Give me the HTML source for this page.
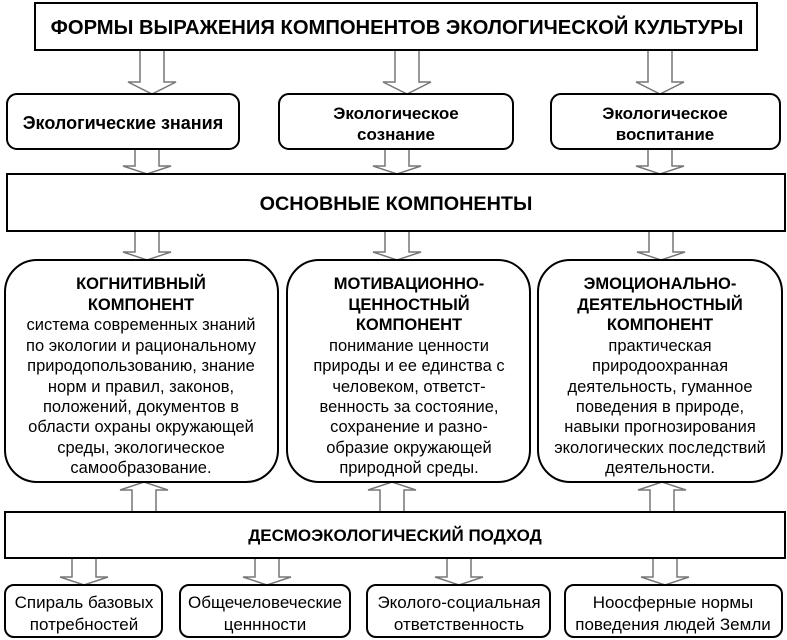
<!DOCTYPE html>
<html><head><meta charset="utf-8"><style>
html,body{margin:0;padding:0;background:#fff;}
svg{display:block;font-family:"Liberation Sans",Arial,sans-serif;}
.b{font-weight:bold;}
</style></head><body>
<svg width="787" height="640" viewBox="0 0 787 640" xmlns="http://www.w3.org/2000/svg">
<g fill="#fff" stroke="#777" stroke-width="1.5">
<path d="M140,50 V82 H128 L152,94 L176,82 H164 V50"/>
<path d="M395,50 V82 H383 L407,94 L431,82 H419 V50"/>
<path d="M648,50 V82 H636 L660,94 L684,82 H672 V50"/>
<path d="M135,149 V166 H123 L147,174 L171,166 H159 V149"/>
<path d="M385,149 V166 H373 L397,174 L421,166 H409 V149"/>
<path d="M648,149 V166 H636 L660,174 L684,166 H672 V149"/>
<path d="M135,231 V252 H123 L147,260 L171,252 H159 V231"/>
<path d="M385,231 V252 H373 L397,260 L421,252 H409 V231"/>
<path d="M649,231 V252 H637 L661,260 L685,252 H673 V231"/>
<path d="M132,512 V490 H120 L144,482 L168,490 H156 V512"/>
<path d="M380,512 V490 H368 L392,482 L416,490 H404 V512"/>
<path d="M650,512 V490 H638 L662,482 L686,490 H674 V512"/>
<path d="M72,558 V577 H60 L84,585 L108,577 H96 V558"/>
<path d="M255,558 V577 H243 L267,585 L291,577 H279 V558"/>
<path d="M447,558 V577 H435 L459,585 L483,577 H471 V558"/>
<path d="M653,558 V577 H641 L665,585 L689,577 H677 V558"/>
</g>
<g fill="#fff" stroke="#000" stroke-width="2">
<rect x="35" y="3" width="722" height="47"/>
<rect x="7" y="94" width="232" height="55" rx="10"/>
<rect x="279" y="94" width="234" height="55" rx="10"/>
<rect x="551" y="94" width="229" height="55" rx="10"/>
<rect x="7" y="174" width="778" height="57"/>
<rect x="5" y="260" width="273" height="222" rx="32"/>
<rect x="287" y="260" width="243" height="222" rx="32"/>
<rect x="538" y="260" width="244" height="222" rx="32"/>
<rect x="5" y="512" width="780" height="46"/>
<rect x="5" y="585" width="157" height="52" rx="9"/>
<rect x="180" y="585" width="170" height="52" rx="9"/>
<rect x="367" y="585" width="183" height="52" rx="9"/>
<rect x="565" y="585" width="217" height="52" rx="9"/>
</g>
<g text-anchor="middle" fill="#000">
<text x="397" y="34" class="b" font-size="20.2">ФОРМЫ ВЫРАЖЕНИЯ КОМПОНЕНТОВ ЭКОЛОГИЧЕСКОЙ КУЛЬТУРЫ</text>
<text x="123" y="129" class="b" font-size="18">Экологические знания</text>
<text x="396" y="119" class="b" font-size="17">Экологическое</text>
<text x="396" y="140" class="b" font-size="17">сознание</text>
<text x="665" y="119" class="b" font-size="17">Экологическое</text>
<text x="665" y="140" class="b" font-size="17">воспитание</text>
<text x="396" y="210" class="b" font-size="19.8">ОСНОВНЫЕ КОМПОНЕНТЫ</text>
<g font-size="16.5">
<text x="141" y="289" class="b">КОГНИТИВНЫЙ</text>
<text x="141" y="310" class="b">КОМПОНЕНТ</text>
<text x="141" y="330">система современных знаний</text>
<text x="141" y="351">по экологии и рациональному</text>
<text x="141" y="371">природопользованию, знание</text>
<text x="141" y="392">норм и правил, законов,</text>
<text x="141" y="412">положений, документов в</text>
<text x="141" y="432">области охраны окружающей</text>
<text x="141" y="453">среды, экологическое</text>
<text x="141" y="473">самообразование.</text>
<text x="409" y="289" class="b">МОТИВАЦИОННО-</text>
<text x="409" y="310" class="b">ЦЕННОСТНЫЙ</text>
<text x="409" y="330" class="b">КОМПОНЕНТ</text>
<text x="409" y="351">понимание ценности</text>
<text x="409" y="371">природы и ее единства с</text>
<text x="409" y="392">человеком, ответст-</text>
<text x="409" y="412">венность за состояние,</text>
<text x="409" y="432">сохранение и разно-</text>
<text x="409" y="453">образие окружающей</text>
<text x="409" y="473">природной среды.</text>
<text x="660" y="289" class="b">ЭМОЦИОНАЛЬНО-</text>
<text x="660" y="310" class="b">ДЕЯТЕЛЬНОСТНЫЙ</text>
<text x="660" y="330" class="b">КОМПОНЕНТ</text>
<text x="660" y="351">практическая</text>
<text x="660" y="371">природоохранная</text>
<text x="660" y="392">деятельность, гуманное</text>
<text x="660" y="412">поведения в природе,</text>
<text x="660" y="432">навыки прогнозирования</text>
<text x="660" y="453">экологических последствий</text>
<text x="660" y="473">деятельности.</text>
</g>
<text x="395" y="541" class="b" font-size="17">ДЕСМОЭКОЛОГИЧЕСКИЙ ПОДХОД</text>
<g font-size="17">
<text x="84" y="608">Спираль базовых</text>
<text x="84" y="630">потребностей</text>
<text x="265" y="608">Общечеловеческие</text>
<text x="265" y="630">ценнности</text>
<text x="459" y="608">Эколого-социальная</text>
<text x="459" y="630">ответственность</text>
<text x="673" y="608">Ноосферные нормы</text>
<text x="673" y="630">поведения людей Земли</text>
</g>
</g>
</svg>
</body></html>
